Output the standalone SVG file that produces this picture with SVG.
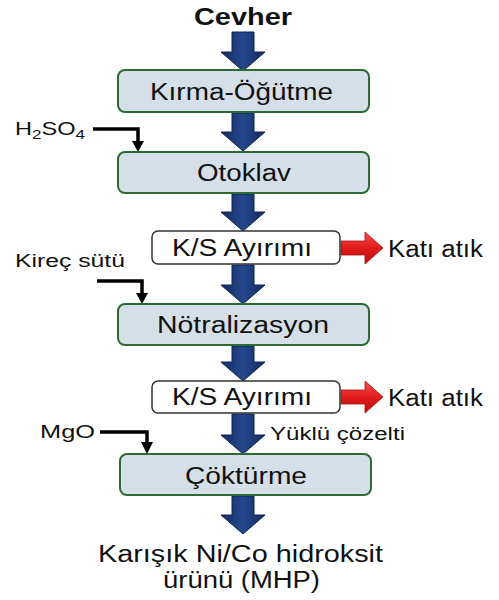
<svg xmlns="http://www.w3.org/2000/svg" width="499" height="600" viewBox="0 0 499 600">
<style>
.box{fill:#d5dfe8;stroke:#2f6a34;stroke-width:2}
.ks{fill:#ffffff;stroke:#333333;stroke-width:1.5}
.t{font-family:"Liberation Sans",Arial,sans-serif;font-size:23px;fill:#111111}
.s{font-family:"Liberation Sans",Arial,sans-serif;font-size:18px;fill:#111111}
.blue{fill:url(#bg);stroke:#112554;stroke-width:1}
.hl{fill:#3d74c4;opacity:0.8}
.red{fill:url(#rg);stroke:#b01010;stroke-width:0.8}
.feed{fill:none;stroke:#000;stroke-width:3.5}
.ah{fill:#000}
</style>
<defs>
<linearGradient id="bg" x1="0" y1="0" x2="1" y2="0">
<stop offset="0" stop-color="#142a5c"/>
<stop offset="0.5" stop-color="#24488e"/>
<stop offset="1" stop-color="#142a5c"/>
</linearGradient>
<linearGradient id="rg" x1="0" y1="0" x2="0" y2="1">
<stop offset="0" stop-color="#f05050"/>
<stop offset="0.5" stop-color="#e21b1b"/>
<stop offset="1" stop-color="#b80d0d"/>
</linearGradient>
</defs>
<text class="t" x="243" y="25" text-anchor="middle" font-weight="bold" textLength="98" lengthAdjust="spacingAndGlyphs" font-size="21">Cevher</text>
<g id="connectors">
<path class="blue" d="M232,32 H254 V52 H265 L243,71 L221,52 H232 Z"/>
<path class="blue" d="M232,113 H254 V132 H265 L243,151 L221,132 H232 Z"/>
<path class="blue" d="M232,194 H254 V212 H265 L243,231 L221,212 H232 Z"/>
<path class="blue" d="M232,265 H254 V285 H265 L243,304 L221,285 H232 Z"/>
<path class="blue" d="M232,346 H254 V362 H265 L243,381 L221,362 H232 Z"/>
<path class="blue" d="M232,414 H254 V435 H265 L243,454 L221,435 H232 Z"/>
<path class="blue" d="M232,496 H254 V515 H265 L243,534 L221,515 H232 Z"/>
<path class="red" d="M341,241 H365 V232 L383,248 L365,264 V255 H341 Z"/>
<path class="red" d="M341,390 H365 V381 L383,397 L365,413 V404 H341 Z"/>
<path class="feed" d="M93,129 H138 V142"/>
<path class="ah" d="M132,141 H144 L138,152 Z"/>
<path class="feed" d="M97,281 H142 V294"/>
<path class="ah" d="M136,293 H148 L142,304 Z"/>
<path class="feed" d="M100,432 H147 V443"/>
<path class="ah" d="M141,442 H153 L147,454 Z"/>
</g>
<g id="kirma">
<rect class="box" x="118" y="70" width="251" height="42" rx="7"/>
<text class="t" x="150" y="100" textLength="183" lengthAdjust="spacingAndGlyphs">Kırma-Öğütme</text>
</g>
<g id="h2so4">
<text class="s" x="15" y="135" textLength="70" lengthAdjust="spacingAndGlyphs">H<tspan font-size="13" dy="4">2</tspan><tspan dy="-4">SO</tspan><tspan font-size="13" dy="4">4</tspan></text>
</g>
<g id="otoklav">
<rect class="box" x="118" y="152" width="251" height="41" rx="7"/>
<text class="t" x="244" y="181" text-anchor="middle" textLength="94" lengthAdjust="spacingAndGlyphs">Otoklav</text>
</g>
<g id="ks1">
<rect class="ks" x="152" y="231" width="188" height="33" rx="6"/>
<text class="t" x="172" y="256" textLength="140" lengthAdjust="spacingAndGlyphs">K/S Ayırımı</text>
</g>
<g id="katiatik1">
<text class="t" x="388" y="257" textLength="95" lengthAdjust="spacingAndGlyphs">Katı atık</text>
</g>
<g id="kirec">
<text class="s" x="15" y="267" textLength="110" lengthAdjust="spacingAndGlyphs">Kireç sütü</text>
</g>
<g id="notralizasyon">
<rect class="box" x="118" y="304" width="251" height="41" rx="7"/>
<text class="t" x="157" y="333" textLength="172" lengthAdjust="spacingAndGlyphs">Nötralizasyon</text>
</g>
<g id="ks2">
<rect class="ks" x="152" y="381" width="188" height="32" rx="6"/>
<text class="t" x="172" y="405" textLength="140" lengthAdjust="spacingAndGlyphs">K/S Ayırımı</text>
</g>
<g id="katiatik2">
<text class="t" x="388" y="406" textLength="95" lengthAdjust="spacingAndGlyphs">Katı atık</text>
</g>
<g id="mgo">
<text class="s" x="40" y="438" textLength="55" lengthAdjust="spacingAndGlyphs">MgO</text>
</g>
<g id="yuklu">
<text class="s" x="270" y="440" textLength="135" lengthAdjust="spacingAndGlyphs">Yüklü çözelti</text>
</g>
<g id="cokturme">
<rect class="box" x="120" y="454" width="251" height="41" rx="7"/>
<text class="t" x="185" y="484" textLength="122" lengthAdjust="spacingAndGlyphs">Çöktürme</text>
</g>
<g id="mhp">
<text class="t" x="98" y="562" textLength="285" lengthAdjust="spacingAndGlyphs">Karışık Ni/Co hidroksit</text>
<text class="t" x="163" y="588" textLength="157" lengthAdjust="spacingAndGlyphs">ürünü (MHP)</text>
</g>
</svg>
